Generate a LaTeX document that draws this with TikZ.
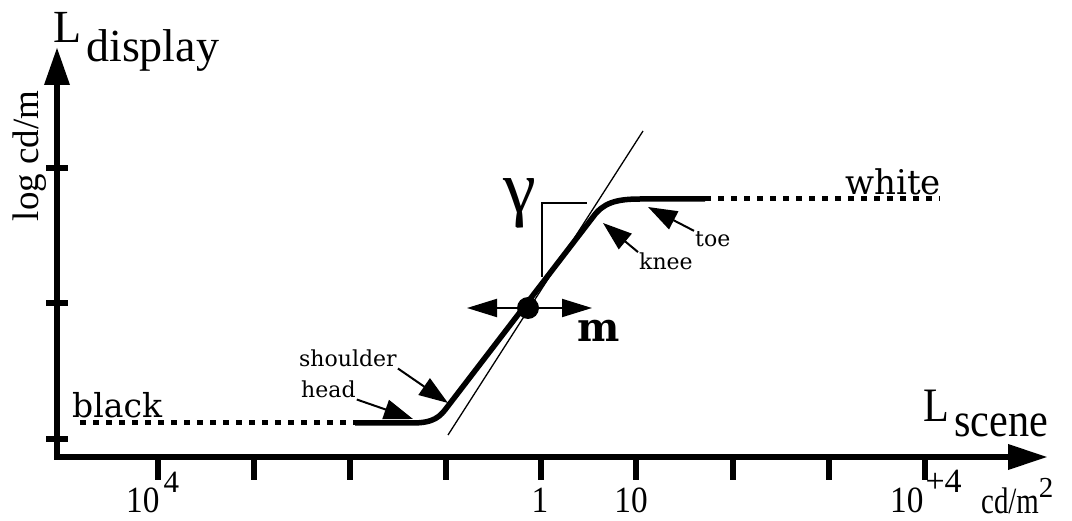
\documentclass[tikz,border=0pt]{standalone}
\usepackage{fontspec}
\usepackage{graphicx}
\setmainfont{Liberation Serif}
\newfontfamily\curvefont{DejaVu Serif}
\newcommand{\condensed}[2][0.9]{\scalebox{#1}[1]{#2}}
\usetikzlibrary{positioning, arrows.meta}

\begin{document}
\begin{tikzpicture}[x=1pt, y=-1pt,
  axis/.style={line width=6.5pt, line join=miter,
    {Triangle[length=38pt, width=24pt]}-{Triangle[length=40pt, width=24pt]}},
  tick/.style={line width=6pt},
  curve/.style={line width=5.5pt, line join=round},
  dotline/.style={line width=5pt, dash pattern=on 6pt off 7pt},
  callout/.style={line width=2pt, -{Triangle[length=29pt, width=20pt]}},
  shiftarr/.style={line width=2pt,
    {Triangle[length=30pt, width=18pt]}-{Triangle[length=30pt, width=18pt]}},
  biglab/.style={inner sep=0pt, font=\fontsize{46}{48}\selectfont},
  tlab/.style={inner sep=0pt, font=\fontsize{37}{39}\selectfont},
  clab/.style={inner sep=1pt, font={\curvefont\fontsize{22}{24}\selectfont}},
  endlab/.style={inner sep=0pt, font={\curvefont\fontsize{34}{36}\selectfont}}
]
\useasboundingbox (0,0) rectangle (1072,521);

% axes and ticks
\draw[axis] (57,47) -- (57,457) -- (1048,457);
\foreach \y in {168,303,439}
  \draw[tick] (46,\y) -- (68,\y);
\foreach \x in {158,254,350,446,541,636,733,829,925}
  \draw[tick] (\x,457) -- (\x,480);

% axis labels
\node[biglab, anchor=base west] (ldisp) at (53,43) {L\kern5pt\raisebox{-19pt}{display}};
\node[biglab, anchor=base west, font=\fontsize{48}{50}\selectfont] (lscene) at (923,422)
  {\condensed[0.88]{L\kern6pt\raisebox{-15pt}{scene}}};
\node[rotate=90, inner sep=0pt, font=\fontsize{37}{39}\selectfont] (ylab) at (30,156) {log cd/m};

\node[tlab, anchor=base west] (lo) at (126,512) {\condensed{10}\kern4pt\raisebox{20pt}{\fontsize{31}{31}\selectfont 4}};
\node[tlab, anchor=base] (one) at (540,512) {\condensed{1}};
\node[tlab, anchor=base] (ten) at (631,512) {\condensed{10}};
\node[tlab, anchor=base west] (hi) at (890,512) {\condensed{10}\kern2pt\raisebox{20pt}{\fontsize{34}{34}\selectfont +4}};
\node[tlab, anchor=base west] (unit) at (981,513)
  {\condensed[0.78]{cd/m}\raisebox{16pt}{\fontsize{29}{29}\selectfont 2}};

% response curve
\draw[dotline] (80,423) -- (355,423);
\draw[dotline] (705,199) -- (940,199);
\draw[curve] (355,423) -- (412,423) .. controls (434,423) and (440,417) .. (448,406)
  -- (593,217) .. controls (603,203) and (616,199) .. (640,199) -- (705,199);

% tangent and slope bracket
\coordinate (tanlo) at (448,435);
\coordinate (tanhi) at (643,131);
\draw[line width=1.3pt] (tanlo) -- (tanhi);
\draw[line width=1.3pt] (542,277) |- (587,203);
\node[inner sep=0pt, font=\fontsize{74}{76}\selectfont] (gam) at (520,203) {γ};

% end labels
\node[endlab, anchor=base west, font={\curvefont\fontsize{33}{35}\selectfont}] (black) at (72,418) {black};
\node[endlab, anchor=base west] (white) at (845,195) {white};

% callouts
\node[clab, anchor=base west] (shoulder) at (298,367) {shoulder};
\node[clab, anchor=base west] (head) at (300,398) {head};
\node[clab, anchor=base west] (knee) at (638,270) {knee};
\node[clab, anchor=base west] (toe) at (694,247) {toe};
\coordinate (shoulderpt) at (448,403);
\coordinate (headpt) at (413,419);
\coordinate (kneept) at (603,223);
\coordinate (toept) at (648,207);
\draw[callout] (shoulder.south east) -- (shoulderpt);
\draw[callout] (head.south east) -- (headpt);
\draw[callout] (knee.north west) -- (kneept);
\draw[callout] (toe.north west) -- (toept);

% mid point and its shift
\coordinate (mleft) at (467,308);
\coordinate (mright) at (592,308);
\draw[shiftarr] (mleft) -- (mright);
\node[circle, fill, inner sep=0pt, minimum size=22pt] (mid) at (528,308) {};
\node[inner sep=0pt, anchor=base west, font={\curvefont\bfseries\fontsize{40}{42}\selectfont}] (mlab) at (577,342) {m};

\end{tikzpicture}
\end{document}
